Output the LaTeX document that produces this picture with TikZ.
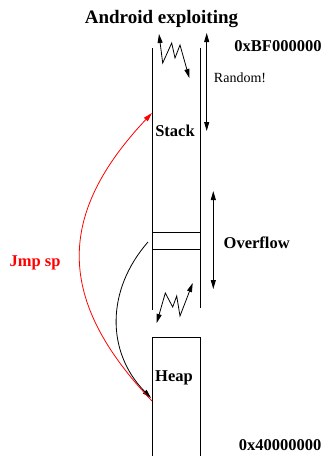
\documentclass[tikz,border=0pt]{standalone}
\usepackage{fontspec}
\setmainfont{Liberation Serif}
\usetikzlibrary{arrows.meta}
\begin{document}
\begin{tikzpicture}[x=1pt,y=-1pt,
  line width=0.8pt,
  tip/.style={-{Triangle[length=9pt,width=5pt]}},
  dtip/.style={{Triangle[length=9pt,width=5pt]}-{Triangle[length=9pt,width=5pt]}},
  lbl/.style={inner sep=0pt,anchor=base,font=\fontsize{16.5}{18}\selectfont\bfseries},
  small/.style={inner sep=0pt,anchor=base,font=\fontsize{14}{16}\selectfont},
  ttl/.style={inner sep=0pt,anchor=base,font=\fontsize{19}{21}\selectfont\bfseries}]
\useasboundingbox (0,0) rectangle (324,456);

% title and address labels
\node[ttl] (title) at (161.5,23) {Android exploiting};
\node[lbl] (top) at (278,51.7) {0xBF000000};
\node[lbl] (bottom) at (280,450) {0x40000000};

% stack column (open at both ends)
\coordinate (stl) at (152,48);
\coordinate (sbl) at (152,310);
\coordinate (str) at (200,48);
\coordinate (sbr) at (200,308);
\draw (stl) -- (sbl);
\draw (str) -- (sbr);
\node[lbl] (stack) at (175,136) {Stack};

% overflowed slot inside the stack
\node[draw,inner sep=0pt,minimum width=48pt,minimum height=17pt] (ovf) at (176,240.5) {};

% heap block (runs off the bottom)
\coordinate (hbl) at (152,456);
\coordinate (htl) at (152,337);
\coordinate (htr) at (200,337);
\coordinate (hbr) at (200,456);
\draw (hbl) -- (htl) -- (htr) -- (hbr);
\node[lbl] (heap) at (174,381.7) {Heap};

% random offset of the stack top
\coordinate (rz1) at (159,34);
\coordinate (rz2) at (189.3,78);
\draw[dtip] (rz1) -- (162.7,63) -- (171.7,43) -- (175,58) -- (180,45) -- (rz2);
\coordinate (ra) at (206.7,33);
\coordinate (rb) at (206.7,131);
\draw[dtip] (ra) -- (rb);
\node[small] (random) at (240,82.7) {Random!};

% random gap between stack and heap
\coordinate (gz1) at (156.7,323);
\coordinate (gz2) at (192.7,283);
\draw[dtip] (gz1) -- (165.3,293) -- (172.7,307) -- (176.7,296) -- (180,316) -- (gz2);

% overflow extent
\coordinate (oa) at (213.3,191);
\coordinate (ob) at (213.3,289);
\draw[dtip] (oa) -- (ob);
\node[lbl] (overflow) at (256.7,248.7) {Overflow};

% control flow: overflow -> heap, heap -> stack
\coordinate (ovfout) at (148,242);
\coordinate (heapin) at (151,398);
\coordinate (heapout) at (152,401);
\coordinate (stackin) at (152,113);
\draw[tip] (ovfout) .. controls (106,290) and (106,352) .. (heapin);
\draw[tip,red] (heapout) .. controls (56,300) and (56,215) .. (stackin);
\node[lbl,red] (jmp) at (35,266) {Jmp sp};
\end{tikzpicture}
\end{document}
